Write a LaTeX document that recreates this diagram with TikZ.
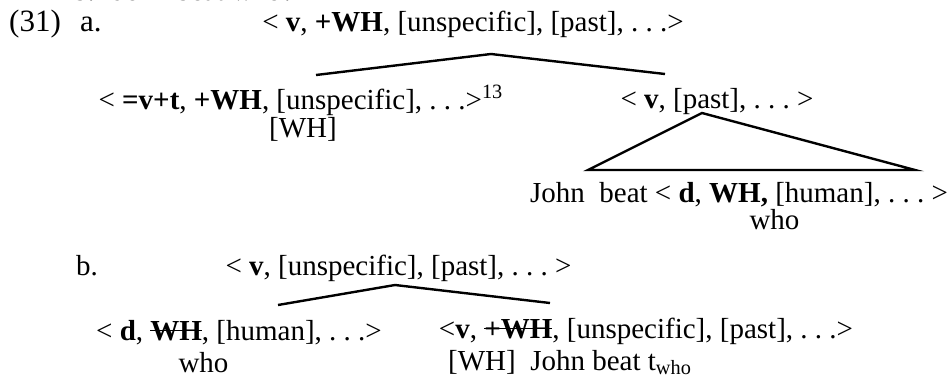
\documentclass[tikz,border=0pt]{standalone}
\usepackage{fontspec}
\setmainfont{Liberation Serif}

% struck-out feature
\newsavebox\strikebox
\newcommand{\strikeout}[1]{\sbox\strikebox{#1}\rlap{\usebox\strikebox}\rule[0.3em]{\wd\strikebox}{0.9pt}}

\begin{document}
\frenchspacing
\begin{tikzpicture}[x=0.5pt,y=-0.5pt,line width=1.2pt,
    every node/.style={inner sep=0pt,anchor=base,font=\fontsize{14.5}{17}\selectfont}]
    \useasboundingbox (0,0) rectangle (949,386);
    \clip (0,0) rectangle (949,386);

    % line cut off at the top
    \node[anchor=base west] (prevb) at (72,0.5) {b.};
    \node[anchor=base west] (prevq) at (113,0.5) {John beat who?};

    % (31a)
    \node[anchor=base west,font=\fontsize{15.5}{18}\selectfont] (numa) at (8,31) {(31)};
    \node[anchor=base west,font=\fontsize{15.5}{18}\selectfont] (leta) at (79,31) {a.};
    \node (aroot) at (473,31) {< \textbf{v}, \textbf{+WH}, [unspecific], [past], . . .>};
    \node (aleft) at (301,109) {< \textbf{=v+t}, \textbf{+WH}, [unspecific], . . .>\textsuperscript{13}};
    \node (aleftwh) at (303,137) {[WH]};
    \node (aright) at (717,108) {< \textbf{v}, [past], . . . >};
    \node (abot) at (739,202) {John\ \ beat < \textbf{d}, \textbf{WH,} [human], . . . >};
    \node (awho) at (774.5,229) {who};

    \coordinate (atop) at (491,54);
    \coordinate (atopl) at (316,75);
    \coordinate (atopr) at (665,74);
    \draw (atopl) -- (atop) -- (atopr);

    \coordinate (tri) at (702,113);
    \coordinate (tril) at (588,170);
    \coordinate (trir) at (915,170);
    \draw (tri) -- (tril) -- (trir) -- cycle;

    % (31b)
    \node[anchor=base west] (numb) at (75,275) {b.};
    \node (broot) at (398.5,275) {< \textbf{v}, [unspecific], [past], . . . >};
    \node (bleft) at (239,340) {< \textbf{d}, \strikeout{\textbf{WH}}, [human], . . .>};
    \node (bright) at (646,338) {<\textbf{v}, \strikeout{\textbf{+WH}}, [unspecific], [past], . . .>};
    \node (bwho) at (203.5,372) {who};
    \node[anchor=base west] (brightsub) at (447,370) {[WH]\ \ John beat t\textsubscript{who}};

    \coordinate (btop) at (395,285);
    \coordinate (btopl) at (278,305);
    \coordinate (btopr) at (550,303);
    \draw (btopl) -- (btop) -- (btopr);

\end{tikzpicture}
\end{document}
